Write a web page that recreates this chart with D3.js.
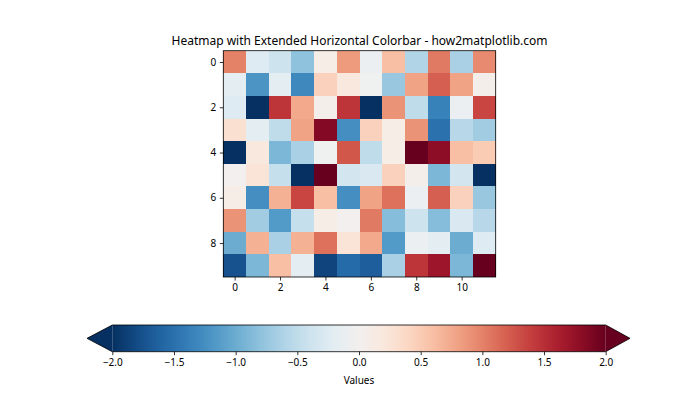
<!DOCTYPE html>
<html><head><meta charset="utf-8">
<script src="https://cdn.jsdelivr.net/npm/d3@7"></script>
<style>body{margin:0;background:#fff}svg{display:block}text{font-family:"Noto Sans",sans-serif}</style>
</head><body><svg id="c" width="700" height="420"></svg>
<script>
const rows = [0,1,2,3,4,5,6,7,8,9];
const cols = [0,1,2,3,4,5,6,7,8,9,10,11];
const values = [
 [1.0,-0.25,-0.4,-0.8,0.1,0.85,-0.1,0.6,-0.6,1.05,-0.65,0.95],
 [-0.2,-1.2,-0.2,-1.3,0.45,0.2,-0.05,-0.75,0.8,1.2,0.8,0.05],
 [-0.25,-2.3,1.45,0.75,0.05,1.45,-2.2,0.9,-0.5,-1.35,-0.1,1.35],
 [0.3,-0.2,-0.5,0.8,1.85,-1.25,0.45,0.1,0.9,-1.5,-0.55,-0.7],
 [-2.1,0.2,-0.9,-0.65,-0.05,1.25,-0.5,0.1,2.2,1.8,0.6,0.5],
 [0.0,0.25,-0.45,-2.1,2.3,-0.35,-0.3,0.45,0.05,-0.9,-0.35,-2.1],
 [0.1,-1.25,0.7,1.35,0.6,-1.25,0.8,1.1,-0.1,1.2,0.45,-0.75],
 [0.9,-0.7,-1.15,-0.45,0.1,0.0,1.05,-0.85,-0.4,-0.85,-0.3,-0.55],
 [-1.0,0.7,-0.65,0.7,1.1,0.25,0.75,-1.15,-0.1,-0.2,-1.0,-0.25],
 [-1.75,-0.9,0.6,-0.2,-1.85,-1.55,-1.65,-0.65,1.45,1.7,-0.9,2.2]
];
const xTicks = [0,2,4,6,8,10];
const yTicks = [0,2,4,6,8];
const cbTicks = [-2.0,-1.5,-1.0,-0.5,0.0,0.5,1.0,1.5,2.0];
const vmin = -2, vmax = 2;
const title = "Heatmap with Extended Horizontal Colorbar - how2matplotlib.com";
const cbLabel = "Values";

const svg = d3.select("#c");
const color = v => d3.interpolateRdBu(1 - (Math.max(vmin, Math.min(vmax, v)) - vmin) / (vmax - vmin));

const L = 223.3, R = 495.7, T = 50.7, B = 277;
const x = d3.scaleLinear().domain([-0.5, 11.5]).range([L, R]);
const y = d3.scaleLinear().domain([-0.5, 9.5]).range([T, B]);

const g = svg.append("g");
values.forEach((row, i) => row.forEach((v, j) => {
  g.append("rect").attr("x", x(j - 0.5)).attr("y", y(i - 0.5))
   .attr("width", x(j + 0.5) - x(j - 0.5) + 0.3).attr("height", y(i + 0.5) - y(i - 0.5) + 0.3)
   .attr("fill", color(v)).attr("shape-rendering", "crispEdges");
}));
svg.append("rect").attr("x", L).attr("y", T).attr("width", R - L).attr("height", B - T)
  .attr("fill", "none").attr("stroke", "#000").attr("stroke-width", 0.8);

const xa = svg.append("g").attr("transform", `translate(0,${B})`)
  .call(d3.axisBottom(x).tickValues(xTicks).tickSize(3.5).tickPadding(3.5).tickFormat(d3.format("d")));
const ya = svg.append("g").attr("transform", `translate(${L},0)`)
  .call(d3.axisLeft(y).tickValues(yTicks).tickSize(3.5).tickPadding(3.5).tickFormat(d3.format("d")));
[xa, ya].forEach(a => { a.select(".domain").remove(); a.selectAll("text").attr("font-size", 10).attr("fill", "#000").attr("font-family", '"Noto Sans",sans-serif'); a.selectAll("line").attr("stroke", "#000").attr("stroke-width", 0.8); });

svg.append("text").attr("x", (L + R) / 2).attr("y", 45).attr("text-anchor", "middle")
  .attr("font-size", 12).text(title);

// colorbar
const cL = 112.3, cR = 605.7, cT = 325, cB = 351.7, tipL = 87, tipR = 630;
const cx = d3.scaleLinear().domain([vmin, vmax]).range([cL, cR]);
const defs = svg.append("defs");
const grad = defs.append("linearGradient").attr("id", "cbg").attr("x1", "0%").attr("x2", "100%");
d3.range(0, 1.0001, 0.05).forEach(t => {
  grad.append("stop").attr("offset", (t * 100) + "%").attr("stop-color", color(vmin + t * (vmax - vmin)));
});
svg.append("rect").attr("x", cL).attr("y", cT).attr("width", cR - cL).attr("height", cB - cT).attr("fill", "url(#cbg)");
const midY = (cT + cB) / 2;
svg.append("path").attr("d", `M${cL},${cT}L${tipL},${midY}L${cL},${cB}Z`).attr("fill", color(vmin));
svg.append("path").attr("d", `M${cR},${cT}L${tipR},${midY}L${cR},${cB}Z`).attr("fill", color(vmax));
svg.append("path").attr("d", `M${cL},${cT}L${cR},${cT}L${tipR},${midY}L${cR},${cB}L${cL},${cB}L${tipL},${midY}Z`)
  .attr("fill", "none").attr("stroke", "#000").attr("stroke-width", 0.8);
const ca = svg.append("g").attr("transform", `translate(0,${cB})`)
  .call(d3.axisBottom(cx).tickValues(cbTicks).tickSize(3.5).tickPadding(3.5).tickFormat(d3.format(".1f")));
ca.select(".domain").remove();
ca.selectAll("text").attr("font-size", 10).attr("fill", "#000").attr("font-family", '"Noto Sans",sans-serif');
ca.selectAll("line").attr("stroke", "#000").attr("stroke-width", 0.8);
svg.append("text").attr("x", (cL + cR) / 2).attr("y", 384).attr("text-anchor", "middle").attr("font-size", 10).text(cbLabel);
</script></body></html>
